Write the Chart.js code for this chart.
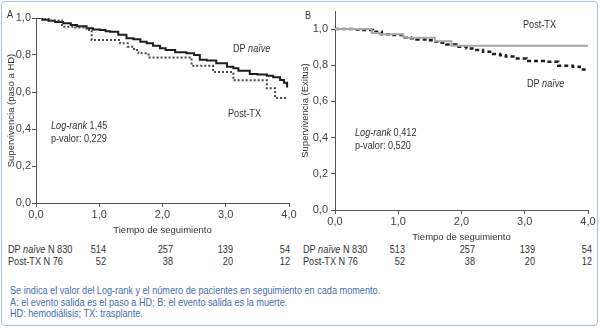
<!DOCTYPE html>
<html><head><meta charset="utf-8">
<script src="https://cdn.jsdelivr.net/npm/chart.js@4/dist/chart.umd.min.js"></script>
<style>
body{margin:0;width:600px;height:328px;background:#fff;overflow:hidden;position:relative;font-family:'Liberation Sans',Arial,sans-serif}
#frame{position:absolute;left:1px;top:1px;width:597px;height:325px;border:1.5px solid #a8c2df;border-radius:4px;box-sizing:border-box}
canvas{position:absolute;top:0}
.t{position:absolute;font-size:10.5px;line-height:12px;color:#333;white-space:nowrap;transform:scaleX(0.87);transform-origin:left center}
.r{text-align:right;width:40px;transform-origin:right center}
.n{color:#3f6db3;font-size:10.5px}
i{font-style:italic}
</style></head><body>
<div id="frame"></div>
<canvas id="cA" width="300" height="236" style="left:0"></canvas>
<canvas id="cB" width="300" height="243" style="left:300px"></canvas>
<div id="txt"></div>
<script>
// ---- data ----
const aDpT = [0,0.1,0.2,0.3,0.43,0.55,0.65,0.8,0.9,1.01,1.1,1.17,1.3,1.43,1.54,1.65,1.75,1.85,1.96,2.05,2.2,2.38,2.5,2.59,2.7,2.85,3.02,3.12,3.2,3.38,3.5,3.65,3.75,3.86,3.92,3.97];
const aDpS = [1.0,0.99,0.985,0.978,0.971,0.962,0.955,0.944,0.938,0.935,0.928,0.926,0.91,0.89,0.885,0.872,0.863,0.85,0.836,0.827,0.815,0.809,0.8,0.775,0.77,0.755,0.737,0.728,0.715,0.697,0.694,0.688,0.68,0.665,0.65,0.625];
const aTxT = [0,0.2,0.41,0.59,0.8,0.88,1.33,1.45,1.55,1.62,1.78,2.46,2.8,3.12,3.65,3.78,3.98];
const aTxS = [1.0,0.987,0.953,0.948,0.935,0.881,0.863,0.845,0.827,0.809,0.787,0.742,0.708,0.663,0.62,0.568,0.568];
const bTxT = [0,0.58,0.71,1.08,1.12,1.58,1.84,4.0];
const bTxS = [1.0,0.978,0.972,0.956,0.952,0.933,0.908,0.908];
const bDpT = [0,0.3,0.45,0.6,0.74,0.9,1.08,1.2,1.29,1.45,1.55,1.65,1.76,1.92,2.08,2.2,2.34,2.5,2.61,2.7,2.82,3.03,3.34,3.53,3.76,3.87,3.97];
const bDpS = [1.0,0.998,0.995,0.985,0.972,0.968,0.954,0.95,0.943,0.938,0.93,0.925,0.915,0.902,0.893,0.885,0.875,0.862,0.856,0.848,0.838,0.823,0.82,0.797,0.792,0.777,0.773];
const xTicks = [0,1,2,3,4];
const yTicks = [0,0.2,0.4,0.6,0.8,1.0];
const riskA = {dp:[514,257,139,54], tx:[52,38,20,12]};
const riskB = {dp:[513,257,139,54], tx:[52,38,20,12]};

const pts = (t,s)=>t.map((v,i)=>({x:v,y:s[i]}));
const fmt = v=>Number(v).toFixed(1).replace('.',',');
const AX='#555', TK='#444';
const REG="'Liberation Sans',Arial,sans-serif";

function mkOpts(o){
  return {
    responsive:false, animation:false, devicePixelRatio:1,
    layout:{padding:{top:o.top,right:o.right,left:0,bottom:0}},
    plugins:{legend:{display:false},tooltip:{enabled:false}},
    elements:{point:{radius:0}},
    scales:{
      x:{type:'linear',min:0,max:4,
        afterBuildTicks:s=>{s.ticks=xTicks.map(v=>({value:v}));},
        ticks:{callback:fmt,font:{family:REG,size:11},color:TK,padding:1,maxRotation:0},
        grid:{drawOnChartArea:false,drawTicks:true,tickLength:4,color:AX},
        border:{color:AX,width:1},
        title:{display:true,text:'Tiempo de seguimiento',font:{family:REG,size:9.5},color:'#333',padding:{top:1,bottom:0}},
        afterFit:s=>{s.height=o.xh;}
      },
      y:{type:'linear',min:0,max:o.ymax,
        afterBuildTicks:s=>{s.ticks=yTicks.map(v=>({value:v}));},
        ticks:{callback:fmt,font:{family:REG,size:11},color:TK,padding:o.lp},
        grid:{drawOnChartArea:false,drawTicks:true,tickLength:4,color:AX},
        border:{color:AX,width:1},
        title:{display:true,text:o.ytitle,font:{family:REG,size:9.5},color:'#333',padding:{top:o.tp,bottom:0}},
        afterFit:s=>{s.width=o.yw;}
      }
    }
  };
}

new Chart(document.getElementById('cA'),{
  type:'line',
  data:{datasets:[
    {data:pts(aTxT,aTxS),stepped:true,borderColor:'#4a4a4a',borderWidth:2,borderDash:[2,2],fill:false},
    {data:pts(aDpT,aDpS),stepped:true,borderColor:'#1e1e1e',borderWidth:2,fill:false}
  ]},
  options:mkOpts({top:18,right:11,xh:33,ymax:1.0,yw:36,lp:1,tp:6,ytitle:'Supervivencia (paso a HD)'})
});
new Chart(document.getElementById('cB'),{
  type:'line',
  data:{datasets:[
    {data:pts(bTxT,bTxS),stepped:true,borderColor:'#a8a8a8',borderWidth:2,fill:false},
    {data:pts(bDpT,bDpS),stepped:true,borderColor:'#1e1e1e',borderWidth:2.5,borderDash:[4,3],fill:false}
  ]},
  options:mkOpts({top:11,right:12,xh:33,ymax:1.1,yw:35,lp:3,tp:0,ytitle:'Supervivencia (Exitus)'})
});

// ---- text overlays ----
const T=[];
function put(x,yc,html,cls){T.push(`<div class="t ${cls||''}" style="left:${x}px;top:${yc-6}px">${html}</div>`);}
function putR(xr,yc,html){T.push(`<div class="t r" style="left:${xr-40}px;top:${yc-6}px">${html}</div>`);}
put(7,14,'A'); put(305,15,'B');
put(233,48,'DP <i>naïve</i>'); put(228,113,'Post-TX');
put(51,125,'<i>Log-rank</i> 1,45'); put(51,138,'p-valor: 0,229');
put(523,24,'Post-TX'); put(527,83,'DP <i>naïve</i>');
put(355,132,'<i>Log-rank</i> 0,412'); put(355,145,'p-valor: 0,520');
const rxA=[106,173,233,290], rxB=[405,475,535,592];
put(8,249,'DP <i>naïve</i> N 830'); put(8,261,'Post-TX N 76');
put(303,249,'DP <i>naïve</i> N 830'); put(303,261,'Post-TX N 76');
riskA.dp.forEach((v,i)=>putR(rxA[i],249,v)); riskA.tx.forEach((v,i)=>putR(rxA[i],261,v));
riskB.dp.forEach((v,i)=>putR(rxB[i],249,v)); riskB.tx.forEach((v,i)=>putR(rxB[i],261,v));
put(10,290,'Se indica el valor del Log-rank y el número de pacientes en seguimiento en cada momento.','n');
put(10,301.5,'A: el evento salida es el paso a HD; B: el evento salida es la muerte.','n');
put(10,313,'HD: hemodiálisis; TX: trasplante.','n');
document.getElementById('txt').innerHTML=T.join('');
</script>
</body></html>
